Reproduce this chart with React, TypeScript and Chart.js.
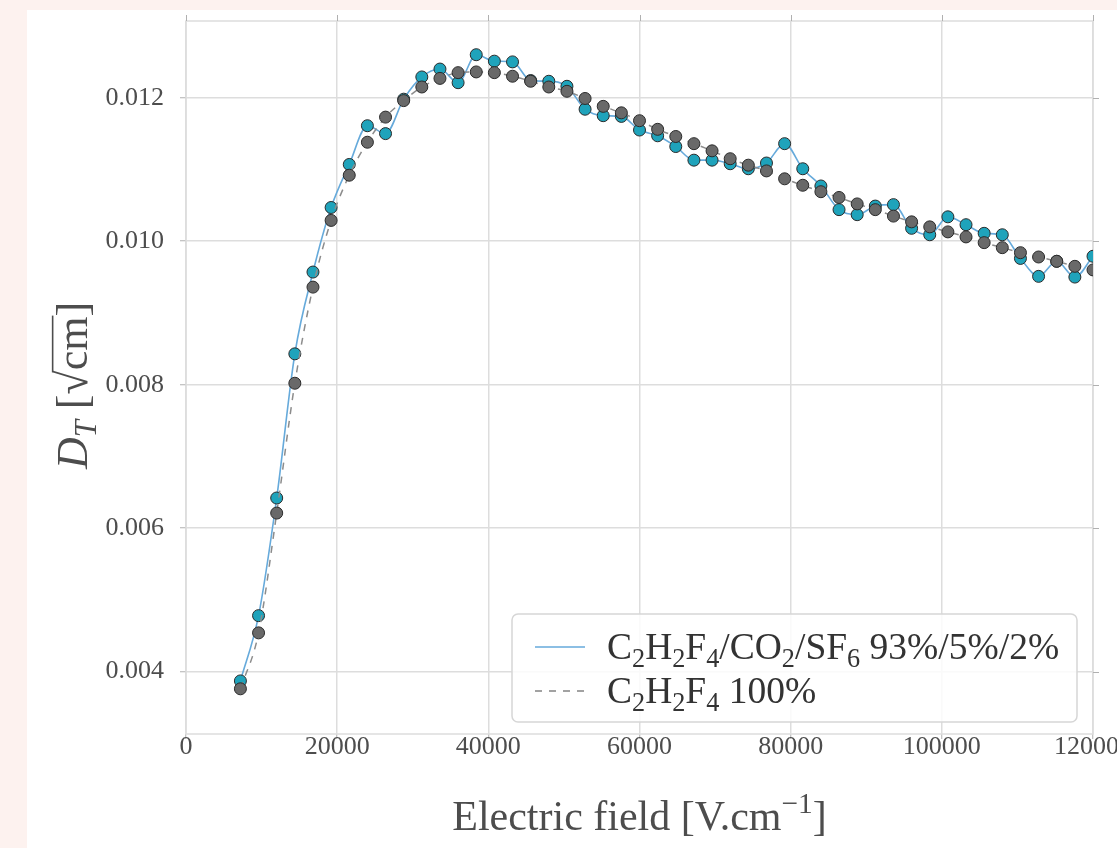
import React, { useEffect, useRef } from "react";
import { Chart, registerables } from "chart.js";

Chart.register(...registerables);

// ---- data ----
const fieldValues = [
  7200, 9600, 12000, 14400, 16800, 19200, 21600, 24000, 26400, 28800,
  31200, 33600, 36000, 38400, 40800, 43200, 45600, 48000, 50400, 52800,
  55200, 57600, 60000, 62400, 64800, 67200, 69600, 72000, 74400, 76800,
  79200, 81600, 84000, 86400, 88800, 91200, 93600, 96000, 98400, 100800,
  103200, 105600, 108000, 110400, 112800, 115200, 117600, 120000,
];

const mixtureDT = [
  0.00387, 0.00478, 0.00642, 0.00843, 0.00957, 0.01047, 0.01107, 0.01161, 0.0115, 0.01198,
  0.01229, 0.0124, 0.01221, 0.0126, 0.01251, 0.0125, 0.01224, 0.01223, 0.01216, 0.01184,
  0.01175, 0.01174, 0.01155, 0.01147, 0.01132, 0.01113, 0.01113, 0.01108, 0.01101, 0.01109,
  0.01136, 0.01101, 0.01077, 0.01044, 0.01037, 0.01049, 0.01051, 0.01018, 0.01009, 0.01034,
  0.01023, 0.01011, 0.01009, 0.00976, 0.00951, 0.00972, 0.0095, 0.00979,
];

const pureDT = [
  0.00376, 0.00454, 0.00621, 0.00802, 0.00936, 0.01029, 0.01092, 0.01138, 0.01173, 0.01196,
  0.01215, 0.01227, 0.01235, 0.01236, 0.01235, 0.0123, 0.01223, 0.01215, 0.01209, 0.01199,
  0.01188, 0.01179, 0.01168, 0.01156, 0.01146, 0.01136, 0.01126, 0.01115, 0.01106, 0.01098,
  0.01087, 0.01078, 0.01069, 0.01061, 0.01052, 0.01044, 0.01035, 0.01027, 0.0102, 0.01013,
  0.01006, 0.00998, 0.00991, 0.00984, 0.00978, 0.00972, 0.00965, 0.0096,
];

const xTickValues = [0, 20000, 40000, 60000, 80000, 100000, 120000];
const yTickValues = [0.004, 0.006, 0.008, 0.01, 0.012];
const seriesLabels = ["C₂H₂F₄/CO₂/SF₆ 93%/5%/2%", "C₂H₂F₄ 100%"];
const xTitle = "Electric field [V.cm⁻¹]";

// ---- styling ----
const SERIF = '"Liberation Serif", "DejaVu Serif", serif';
const CANVAS_W = 1200;
const CANVAS_H = 848;
const AREA = { left: 186, top: 21, right: 1093, bottom: 734 };
const GRID = "#dddddd";
const TICK = "#b0b0b0";
const TEXT = "#4d4d4d";
const BLUE_LINE = "#66aadb";
const TEAL = "#1fa3bb";
const GRAY_FILL = "#696969";
const GRAY_LINE = "#8c8c8c";

const SUB: Record<string, string> = {
  "₀": "0", "₁": "1", "₂": "2", "₃": "3", "₄": "4", "₅": "5", "₆": "6", "₇": "7", "₈": "8", "₉": "9",
};
const SUP: Record<string, string> = { "⁻": "−", "¹": "1", "²": "2" };

type Run = { t: string; kind: "n" | "sub" | "sup" };

function parseRuns(text: string): Run[] {
  const runs: Run[] = [];
  for (const ch of Array.from(text)) {
    let kind: Run["kind"] = "n";
    let c = ch;
    if (SUB[ch]) { kind = "sub"; c = SUB[ch]; }
    else if (SUP[ch]) { kind = "sup"; c = SUP[ch]; }
    const last = runs[runs.length - 1];
    if (last && last.kind === kind) last.t += c;
    else runs.push({ t: c, kind });
  }
  return runs;
}

function drawRich(
  ctx: CanvasRenderingContext2D,
  text: string,
  x: number,
  baseline: number,
  size: number,
  color: string,
  align: "left" | "center"
) {
  const runs = parseRuns(text);
  const small = size * 0.7;
  const widths = runs.map((r) => {
    ctx.font = `${r.kind === "n" ? size : small}px ${SERIF}`;
    return ctx.measureText(r.t).width;
  });
  const total = widths.reduce((a, b) => a + b, 0);
  let cx = align === "center" ? x - total / 2 : x;
  ctx.fillStyle = color;
  ctx.textBaseline = "alphabetic";
  ctx.textAlign = "left";
  runs.forEach((r, i) => {
    ctx.font = `${r.kind === "n" ? size : small}px ${SERIF}`;
    const dy = r.kind === "sub" ? size * 0.22 : r.kind === "sup" ? -size * 0.4 : 0;
    ctx.fillText(r.t, cx, baseline + dy);
    cx += widths[i];
  });
}

const decorPlugin = {
  id: "decor",
  beforeDatasetsDraw(chart: any) {
    const ctx: CanvasRenderingContext2D = chart.ctx;
    const a = chart.chartArea;
    ctx.save();
    ctx.strokeStyle = GRID;
    ctx.lineWidth = 1.5;
    ctx.strokeRect(a.left, a.top, a.right - a.left, a.bottom - a.top);
    ctx.strokeStyle = TICK;
    ctx.lineWidth = 1;
    const xs = chart.scales.x;
    const ys = chart.scales.y;
    xTickValues.forEach((v) => {
      const px = Math.round(xs.getPixelForValue(v)) + 0.5;
      ctx.beginPath();
      ctx.moveTo(px, a.top);
      ctx.lineTo(px, a.top - 6);
      ctx.stroke();
    });
    yTickValues.forEach((v) => {
      const py = Math.round(ys.getPixelForValue(v)) + 0.5;
      ctx.beginPath();
      ctx.moveTo(a.right, py);
      ctx.lineTo(a.right + 6, py);
      ctx.stroke();
    });
    ctx.restore();
  },
  afterDraw(chart: any) {
    const ctx: CanvasRenderingContext2D = chart.ctx;
    const a = chart.chartArea;
    ctx.save();

    // x title
    drawRich(ctx, xTitle, (a.left + a.right) / 2, 830, 42, TEXT, "center");

    // y title: D_T [√cm]
    ctx.save();
    ctx.translate(72, (a.top + a.bottom) / 2 + 8);
    ctx.rotate(-Math.PI / 2);
    const S = 44;
    const pieces: { t: string; size: number; italic?: boolean; dy?: number; over?: boolean }[] = [
      { t: "D", size: S, italic: true },
      { t: "T", size: S * 0.7, italic: true, dy: S * 0.2 },
      { t: " [", size: S },
      { t: "√", size: S },
      { t: "cm", size: S, over: true },
      { t: "]", size: S },
    ];
    const fontOf = (p: any) => `${p.italic ? "italic " : ""}${p.size}px ${SERIF}`;
    const ws = pieces.map((p) => {
      ctx.font = fontOf(p);
      return ctx.measureText(p.t).width;
    });
    const tot = ws.reduce((x, y) => x + y, 0);
    let px = -tot / 2;
    const base = S * 0.34;
    ctx.fillStyle = TEXT;
    ctx.textAlign = "left";
    ctx.textBaseline = "alphabetic";
    pieces.forEach((p, i) => {
      ctx.font = fontOf(p);
      ctx.fillText(p.t, px, base + (p.dy || 0));
      if (p.over) {
        ctx.strokeStyle = TEXT;
        ctx.lineWidth = 1.6;
        ctx.beginPath();
        ctx.moveTo(px - 2, base - S * 0.78);
        ctx.lineTo(px + ws[i] + 1, base - S * 0.78);
        ctx.stroke();
      }
      px += ws[i];
    });
    ctx.restore();

    // legend box
    const lx = 512, ly = 614, lw = 565, lh = 108;
    ctx.fillStyle = "rgba(255,255,255,0.85)";
    ctx.strokeStyle = "#d6d6d6";
    ctx.lineWidth = 1.5;
    ctx.beginPath();
    (ctx as any).roundRect(lx, ly, lw, lh, 6);
    ctx.fill();
    ctx.stroke();

    const rows = [
      { y: 647, color: BLUE_LINE, dash: [] as number[] },
      { y: 691, color: GRAY_LINE, dash: [7, 7] },
    ];
    rows.forEach((r, i) => {
      ctx.strokeStyle = r.color;
      ctx.lineWidth = 1.6;
      ctx.setLineDash(r.dash);
      ctx.beginPath();
      ctx.moveTo(535, r.y);
      ctx.lineTo(585, r.y);
      ctx.stroke();
      ctx.setLineDash([]);
      drawRich(ctx, seriesLabels[i], 607, r.y + 12, 37.5, "#333333", "left");
    });

    ctx.restore();
  },
};

export default function App() {
  const canvasRef = useRef<HTMLCanvasElement | null>(null);

  useEffect(() => {
    const canvas = canvasRef.current;
    if (!canvas) return;
    const chart = new Chart(canvas, {
      type: "line",
      data: {
        datasets: [
          {
            label: seriesLabels[0],
            data: fieldValues.map((x, i) => ({ x, y: mixtureDT[i] })),
            borderColor: BLUE_LINE,
            borderWidth: 1.6,
            backgroundColor: TEAL,
            pointBackgroundColor: TEAL,
            pointBorderColor: "#2a2a2a",
            pointBorderWidth: 1,
            pointRadius: 6,
            cubicInterpolationMode: "monotone",
            clip: 0,
            order: 1,
          },
          {
            label: seriesLabels[1],
            data: fieldValues.map((x, i) => ({ x, y: pureDT[i] })),
            borderColor: GRAY_LINE,
            borderWidth: 1.5,
            borderDash: [7, 7],
            backgroundColor: GRAY_FILL,
            pointBackgroundColor: GRAY_FILL,
            pointBorderColor: "#2a2a2a",
            pointBorderWidth: 1,
            pointRadius: 6,
            cubicInterpolationMode: "monotone",
            clip: 0,
            order: 0,
          },
        ],
      },
      options: {
        animation: false,
        responsive: false,
        devicePixelRatio: 1,
        layout: {
          padding: { left: 0, top: AREA.top, right: CANVAS_W - AREA.right, bottom: 0 },
        },
        plugins: {
          legend: { display: false },
          tooltip: { enabled: false },
          title: { display: false },
        },
        scales: {
          x: {
            type: "linear",
            min: 0,
            max: 120000,
            afterFit: (s: any) => {
              s.height = CANVAS_H - AREA.bottom;
              s.paddingLeft = 0;
              s.paddingRight = 0;
            },
            afterBuildTicks: (s: any) => {
              s.ticks = xTickValues.map((v) => ({ value: v }));
            },
            grid: {
              color: GRID,
              lineWidth: 1.5,
              drawTicks: true,
              tickLength: 5,
              tickColor: TICK,
              tickWidth: 1,
            },
            border: { display: false },
            ticks: {
              color: TEXT,
              font: { family: SERIF, size: 26 },
              padding: -7,
              maxRotation: 0,
              autoSkip: false,
              callback: (v: any) => String(v),
            },
          },
          y: {
            type: "linear",
            min: 0.00313,
            max: 0.01307,
            afterFit: (s: any) => {
              s.width = AREA.left;
              s.paddingTop = 0;
              s.paddingBottom = 0;
            },
            afterBuildTicks: (s: any) => {
              s.ticks = yTickValues.map((v) => ({ value: v }));
            },
            grid: {
              color: GRID,
              lineWidth: 1.5,
              drawTicks: true,
              tickLength: 6,
              tickColor: TICK,
              tickWidth: 1,
            },
            border: { display: false },
            ticks: {
              color: TEXT,
              font: { family: SERIF, size: 26 },
              padding: 16,
              autoSkip: false,
              callback: (v: any) => Number(v).toFixed(3),
            },
          },
        },
      },
      plugins: [decorPlugin],
    } as any);
    return () => chart.destroy();
  }, []);

  return (
    <div
      style={{
        position: "fixed",
        left: 0,
        top: 0,
        width: "100vw",
        height: "100vh",
        overflow: "hidden",
        background: "#fdf2ef",
      }}
    >
      <div
        style={{
          position: "absolute",
          left: 27,
          top: 10,
          right: -20,
          bottom: -20,
          background: "#ffffff",
        }}
      />
      <canvas
        ref={canvasRef}
        width={CANVAS_W}
        height={CANVAS_H}
        style={{ position: "absolute", left: 0, top: 0, width: CANVAS_W, height: CANVAS_H }}
      />
    </div>
  );
}
